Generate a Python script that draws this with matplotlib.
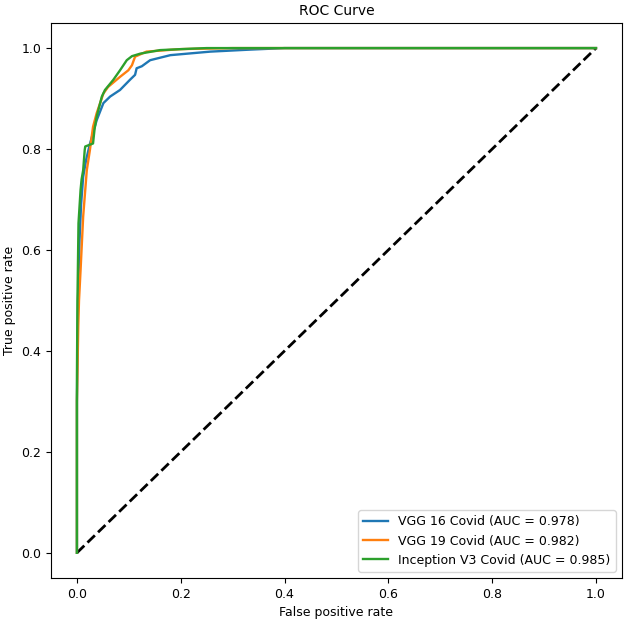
import matplotlib
matplotlib.use("Agg")
import matplotlib.pyplot as plt

# values
vgg16_fpr = [0, 0, 0.002, 0.005, 0.008, 0.012, 0.018, 0.025, 0.038, 0.051, 0.064,
             0.083, 0.102, 0.112, 0.115, 0.125, 0.141, 0.180, 0.257, 0.334, 0.40, 1.0]
vgg16_tpr = [0, 0.3, 0.5, 0.62, 0.69, 0.745, 0.78, 0.81, 0.857, 0.891, 0.904,
             0.917, 0.937, 0.947, 0.960, 0.964, 0.976, 0.986, 0.993, 0.997, 1.0, 1.0]

vgg19_fpr = [0, 0, 0.0026, 0.004, 0.007, 0.012, 0.019, 0.025, 0.031, 0.038, 0.051,
             0.060, 0.083, 0.099, 0.106, 0.112, 0.134, 0.2, 0.3, 1.0]
vgg19_tpr = [0, 0.3, 0.45, 0.5, 0.56, 0.666, 0.758, 0.798, 0.844, 0.871, 0.910,
             0.923, 0.943, 0.956, 0.966, 0.983, 0.993, 0.998, 1.0, 1.0]

incv3_fpr = [0, 0, 0.001, 0.003, 0.007, 0.009, 0.012, 0.015, 0.016, 0.031, 0.034,
             0.038, 0.048, 0.054, 0.070, 0.083, 0.096, 0.106, 0.122, 0.160, 0.224, 0.25, 1.0]
incv3_tpr = [0, 0.35, 0.50, 0.653, 0.719, 0.74, 0.758, 0.798, 0.805, 0.811, 0.84,
             0.864, 0.904, 0.917, 0.937, 0.956, 0.976, 0.984, 0.989, 0.996, 0.999, 1.0, 1.0]

labels = ["VGG 16 Covid (AUC = 0.978)",
          "VGG 19 Covid (AUC = 0.982)",
          "Inception V3 Covid (AUC = 0.985)"]

plt.rcParams["font.size"] = 9

fig = plt.figure(figsize=(6.24, 6.21), dpi=100)
ax = fig.add_axes([0.0817, 0.0692, 0.915, 0.894])

ax.plot([0, 1], [0, 1], "k--", linewidth=2)
ax.plot(vgg16_fpr, vgg16_tpr, label=labels[0], linewidth=1.7)
ax.plot(vgg19_fpr, vgg19_tpr, label=labels[1], linewidth=1.7)
ax.plot(incv3_fpr, incv3_tpr, label=labels[2], linewidth=1.7)

ax.set_xlabel("False positive rate")
ax.set_ylabel("True positive rate")
ax.set_title("ROC Curve", fontsize=10)
ax.legend(loc="best")

fig.savefig("out.png", dpi=100)
